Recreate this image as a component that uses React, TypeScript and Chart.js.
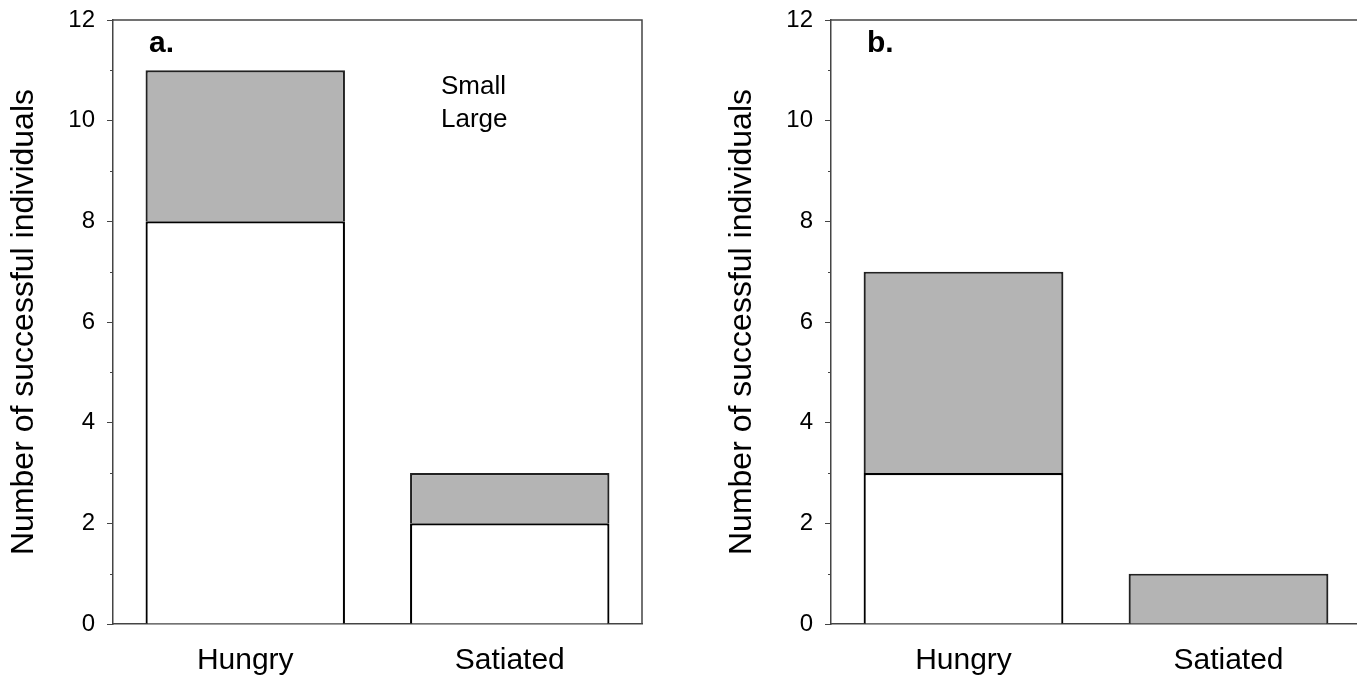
import React, { useEffect, useRef } from "react";
import { Chart, registerables } from "chart.js";

Chart.register(...registerables);

const categories = ["Hungry", "Satiated"];
const seriesNames = ["Small", "Large"];
const panelASmall = [8, 2];
const panelALarge = [3, 1];
const panelBSmall = [3, 0];
const panelBLarge = [4, 1];
const yTicks = [0, 2, 4, 6, 8, 10, 12];
const panelLetters = ["a.", "b."];

const FONT = "'Liberation Sans', Arial, sans-serif";
const AXIS = "#444444";

const decorPlugin = {
  id: "decor",
  afterDraw(chart: any, _args: any, opts: any) {
    const { ctx, chartArea } = chart;
    const y = chart.scales.y;
    ctx.save();
    ctx.strokeStyle = AXIS;
    ctx.lineWidth = 1.5;
    ctx.beginPath();
    ctx.moveTo(chartArea.left, chartArea.top);
    ctx.lineTo(chartArea.right, chartArea.top);
    ctx.lineTo(chartArea.right, chartArea.bottom);
    ctx.stroke();
    ctx.lineWidth = 1;
    for (let v = 1; v < 12; v += 2) {
      const py = Math.round(y.getPixelForValue(v)) + 0.5;
      ctx.beginPath();
      ctx.moveTo(chartArea.left - 3, py);
      ctx.lineTo(chartArea.left, py);
      ctx.stroke();
    }
    ctx.fillStyle = "#000";
    ctx.font = `bold 30px ${FONT}`;
    ctx.textBaseline = "middle";
    ctx.textAlign = "left";
    ctx.fillText(opts.letter, chartArea.left + 36, chartArea.top + 24);
    if (opts.legend) {
      ctx.font = `26px ${FONT}`;
      chart.data.datasets.forEach((ds: any, i: number) => {
        ctx.fillText(ds.label, chartArea.left + 328, chartArea.top + 67 + i * 33);
      });
    }
    ctx.restore();
  },
};

function makeConfig(small: number[], large: number[], letter: string, legend: boolean): any {
  return {
    type: "bar",
    data: {
      labels: categories,
      datasets: [
        {
          label: seriesNames[0],
          data: small,
          backgroundColor: "#ffffff",
          borderColor: "#000000",
          borderWidth: 2.2,
        },
        {
          label: seriesNames[1],
          data: large,
          backgroundColor: "#b4b4b4",
          borderColor: "#222222",
          borderWidth: 2.2,
        },
      ],
    },
    plugins: [decorPlugin],
    options: {
      animation: false,
      responsive: false,
      maintainAspectRatio: false,
      layout: { padding: { top: 20, right: 38, left: 0, bottom: 0 } },
      datasets: { bar: { categoryPercentage: 1, barPercentage: 0.754 } },
      plugins: {
        legend: { display: false },
        tooltip: { enabled: false },
        decor: { letter, legend },
      },
      scales: {
        x: {
          stacked: true,
          grid: { display: false, drawTicks: false },
          border: { color: AXIS, width: 1.5 },
          ticks: { color: "#000", font: { family: FONT, size: 30 }, padding: 19 },
          afterFit(scale: any) {
            scale.height = 52;
            scale.paddingLeft = 0;
            scale.paddingRight = 0;
          },
        },
        y: {
          stacked: true,
          min: 0,
          max: 12,
          afterBuildTicks(scale: any) {
            scale.ticks = yTicks.map((v) => ({ value: v }));
          },
          grid: { drawOnChartArea: false, drawTicks: true, tickLength: 6, color: AXIS },
          border: { color: AXIS, width: 1.5 },
          ticks: { color: "#000", font: { family: FONT, size: 24 }, padding: 12 },
          title: {
            display: true,
            text: "Number of successful individuals",
            color: "#000",
            font: { family: FONT, size: 32 },
            padding: { top: 5, bottom: 4 },
          },
          afterFit(scale: any) {
            scale.width = 113;
            scale.paddingTop = 0;
            scale.paddingBottom = 0;
          },
        },
      },
    },
  };
}

function Panel({ small, large, letter, legend, left, width }: any) {
  const ref = useRef<HTMLCanvasElement>(null);
  useEffect(() => {
    const c = new Chart(ref.current as HTMLCanvasElement, makeConfig(small, large, letter, legend));
    return () => c.destroy();
  }, []);
  return (
    <canvas
      ref={ref}
      width={width}
      height={676}
      style={{ position: "absolute", left, top: 0, width, height: 676 }}
    />
  );
}

export default function App() {
  return (
    <div
      style={{
        position: "fixed",
        left: 0,
        top: 0,
        width: 1357,
        height: 676,
        overflow: "hidden",
        background: "#fff",
      }}
    >
      <Panel small={panelASmall} large={panelALarge} letter={panelLetters[0]} legend={true} left={0} width={680} />
      <Panel small={panelBSmall} large={panelBLarge} letter={panelLetters[1]} legend={false} left={718} width={681} />
    </div>
  );
}
